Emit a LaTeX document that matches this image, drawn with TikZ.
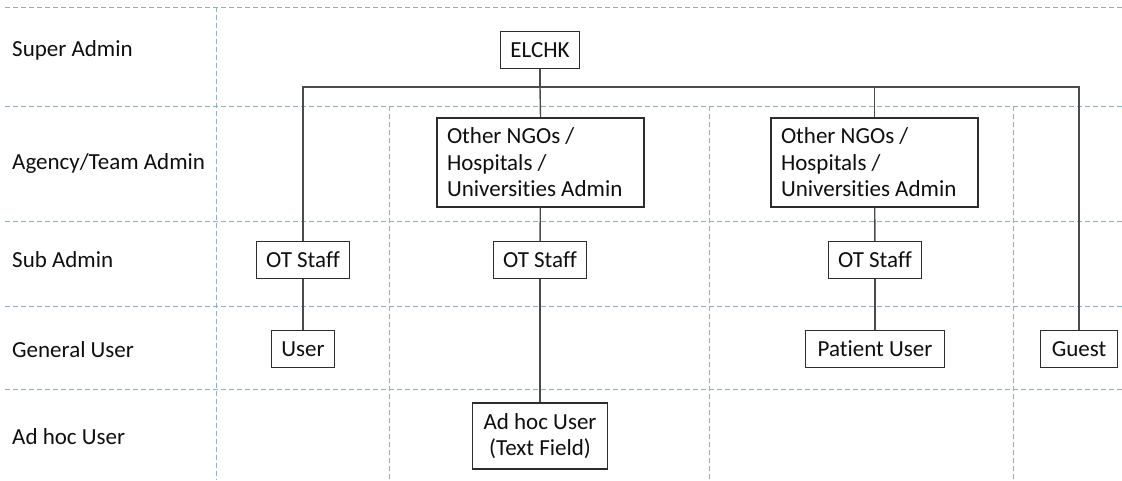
\documentclass[tikz,border=0pt]{standalone}
\usepackage{fontspec}
\setmainfont{Carlito}[Ligatures=NoCommon]
\definecolor{gridblue}{RGB}{140, 175, 200}
\definecolor{boxline}{RGB}{45, 45, 45}
\definecolor{linkgray}{RGB}{75, 75, 75}
\definecolor{labeltext}{RGB}{15, 15, 15}
\usepackage{tikz}
\usetikzlibrary{calc}

\begin{document}
\begin{tikzpicture}[x=1pt, y=-1pt,
    grid/.style={gridblue, line width=0.8pt, dash pattern=on 5pt off 3pt},
    box/.style={draw=boxline, fill=white, line width=1.2pt, inner xsep=10pt,
      minimum height=37pt, font=\fontsize{23}{26.5}\selectfont, text=labeltext},
    rowlabel/.style={anchor=west, inner sep=0pt, font=\fontsize{23}{26.5}\selectfont, text=labeltext},
    link/.style={linkgray, line width=1.4pt}]
    \useasboundingbox (0,0) rectangle (1122,480);

    % === Grid (lanes) ===
    \foreach \y in {7,106,221,306,389}
      \draw[grid] (5,\y) -- (1122,\y);
    \draw[grid] (216.5,7) -- (216.5,480);
    \foreach \x in {389,709,1013}
      \draw[grid] (\x,106) -- (\x,480);

    % === Row labels ===
    \node[rowlabel] (lsuper) at (12,50) {Super Admin};
    \node[rowlabel] (lagency) at (12,163) {Agency/Team Admin};
    \node[rowlabel] (lsub) at (12,260) {Sub Admin};
    \node[rowlabel] (lgeneral) at (12,350) {General User};
    \node[rowlabel] (ladhoc) at (12,437) {Ad hoc User};

    % === Boxes ===
    \node[box] (elchk) at (540,50) {ELCHK};
    \node[box, align=flush left, text width=187pt, minimum height=89pt] (ngoa) at (540.5,162.5)
      {Other NGOs /\\ Hospitals /\\ Universities Admin};
    \node[box, align=flush left, text width=187pt, minimum height=89pt] (ngob) at (874.5,162.5)
      {Other NGOs /\\ Hospitals /\\ Universities Admin};
    \node[box] (ota) at (303,260) {OT Staff};
    \node[box] (otb) at (540,260) {OT Staff};
    \node[box] (otc) at (875,260) {OT Staff};
    \node[box] (user) at (303,349) {User};
    \node[box, inner xsep=12pt] (patient) at (875,349) {Patient User};
    \node[box, inner xsep=11pt] (guest) at (1079,349) {Guest};
    \node[box, align=flush center, minimum height=66pt, inner xsep=11pt] (adhoc) at (540,436)
      {Ad hoc User\\(Text Field)};

    % === Connectors ===
    \coordinate (bar) at (540,87);
    \draw[link] (elchk) -- (bar);
    \draw[link] (ota.north) |- (bar) -| (guest.north);
    \draw[link] (bar) -- (ngoa.north);
    \draw[link] (ngob.north) -- (ngob.north |- bar);
    \draw[link] (ngoa) -- (otb);
    \draw[link] (otb) -- (adhoc);
    \draw[link] (ngob) -- (otc);
    \draw[link] (otc) -- (patient);
    \draw[link] (ota) -- (user);
\end{tikzpicture}
\end{document}
